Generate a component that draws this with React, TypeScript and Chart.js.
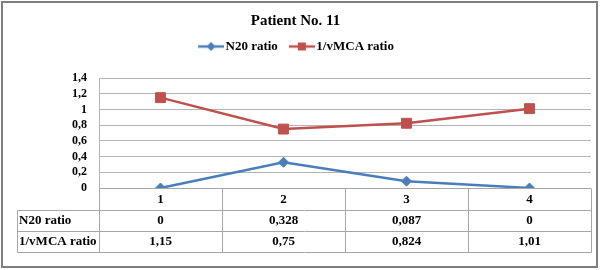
import React, { useEffect, useRef } from "react";
import { Chart, registerables } from "chart.js";

Chart.register(...registerables);

const titleText = "Patient No. 11";
const categories = ["1", "2", "3", "4"];
const seriesNames = ["N20 ratio", "1/vMCA ratio"];
const n20Ratio = [0, 0.328, 0.087, 0];
const vmcaRatio = [1.15, 0.75, 0.824, 1.01];
const yTickValues = [0, 0.2, 0.4, 0.6, 0.8, 1, 1.2, 1.4];

const BLUE = "#4A7EBB";
const RED = "#C0504D";
const GRID = "#B3B3B3";
const TABLE_LINE = "#A6A6A6";
const FONT = "'Liberation Serif', 'Times New Roman', serif";

const fmt = (v: number) => String(Number(Number(v).toFixed(3))).replace(".", ",");

function makeLegendSymbol(color: string, kind: "diamond" | "square") {
  const c = document.createElement("canvas");
  c.width = 32;
  c.height = 12;
  const ctx = c.getContext("2d")!;
  ctx.strokeStyle = color;
  ctx.lineWidth = 2.5;
  ctx.beginPath();
  ctx.moveTo(6, 6);
  ctx.lineTo(32, 6);
  ctx.stroke();
  ctx.fillStyle = color;
  const cx = 19;
  const cy = 6;
  ctx.beginPath();
  if (kind === "diamond") {
    ctx.moveTo(cx, cy - 4.5);
    ctx.lineTo(cx + 4.5, cy);
    ctx.lineTo(cx, cy + 4.5);
    ctx.lineTo(cx - 4.5, cy);
    ctx.closePath();
  } else {
    ctx.rect(cx - 4, cy - 4, 8, 8);
  }
  ctx.fill();
  return c;
}

const HEADER_H = 22;
const ROW_H = 21;
const TABLE_LEFT = 17;

const legendSpacer = {
  id: "legendSpacer",
  afterInit(chart: any) {
    const legend = chart.legend;
    if (!legend || legend._spacerPatched) return;
    const orig = legend.fit;
    legend.fit = function () {
      orig.call(this);
      this.height += 15;
    };
    legend._spacerPatched = true;
  },
};

const frame = {
  id: "frame",
  beforeDraw(chart: any) {
    const { ctx, width, height } = chart;
    ctx.save();
    ctx.fillStyle = "#fff";
    ctx.fillRect(0, 0, width, height);
    ctx.restore();
  },
  afterDraw(chart: any) {
    const { ctx } = chart;
    ctx.save();
    ctx.strokeStyle = "#7F7F7F";
    ctx.lineWidth = 2;
    ctx.strokeRect(2, 2, 595, 265);
    ctx.restore();
  },
};

const dataTable = {
  id: "dataTable",
  beforeDatasetsDraw(chart: any) {
    const { ctx, chartArea } = chart;
    const xs = chart.scales.x;
    const n = categories.length;
    const band = (xs.right - xs.left) / n;
    const top = Math.round(chartArea.bottom) + 0.5;
    const y1 = top + HEADER_H;
    const rows = chart.data.datasets.length;
    const bottom = y1 + rows * ROW_H;
    ctx.save();
    ctx.strokeStyle = TABLE_LINE;
    ctx.lineWidth = 1;
    ctx.beginPath();
    ctx.moveTo(xs.left, top);
    ctx.lineTo(xs.right, top);
    for (let r = 0; r <= rows; r++) {
      const y = y1 + r * ROW_H;
      ctx.moveTo(TABLE_LEFT + 0.5, y);
      ctx.lineTo(Math.round(xs.right) + 0.5, y);
    }
    for (let i = 0; i <= n; i++) {
      const x = Math.round(xs.left + i * band) + 0.5;
      ctx.moveTo(x, top);
      ctx.lineTo(x, bottom);
    }
    ctx.moveTo(TABLE_LEFT + 0.5, y1);
    ctx.lineTo(TABLE_LEFT + 0.5, bottom);
    ctx.stroke();

    ctx.fillStyle = "#000";
    ctx.font = `bold 13px ${FONT}`;
    ctx.textBaseline = "middle";
    chart.data.datasets.forEach((ds: any, r: number) => {
      const yc = y1 + r * ROW_H + ROW_H / 2;
      ctx.textAlign = "left";
      ctx.fillText(ds.label, TABLE_LEFT + 2, yc);
      ctx.textAlign = "center";
      ds.data.forEach((v: number, i: number) => {
        ctx.fillText(fmt(v), xs.getPixelForValue(i), yc);
      });
    });
    ctx.restore();
  },
};

export default function App() {
  const ref = useRef<HTMLCanvasElement>(null);

  useEffect(() => {
    const canvas = ref.current!;
    const symbols = [makeLegendSymbol(BLUE, "diamond"), makeLegendSymbol(RED, "square")];
    const chart = new Chart(canvas, {
      type: "line",
      data: {
        labels: categories,
        datasets: [
          {
            label: seriesNames[0],
            data: n20Ratio,
            borderColor: BLUE,
            backgroundColor: BLUE,
            borderWidth: 2.5,
            pointStyle: "rectRot",
            pointRadius: 5,
            pointBorderWidth: 1,
            tension: 0,
          },
          {
            label: seriesNames[1],
            data: vmcaRatio,
            borderColor: RED,
            backgroundColor: RED,
            borderWidth: 2.5,
            pointStyle: "rect",
            pointRadius: 7,
            pointBorderWidth: 1,
            tension: 0,
          },
        ],
      },
      options: {
        responsive: false,
        animation: false,
        devicePixelRatio: 1,
        layout: { padding: { top: 0, left: 0, right: 9, bottom: 18 } },
        font: { family: FONT },
        plugins: {
          title: {
            display: true,
            text: titleText,
            color: "#000",
            font: { family: FONT, size: 15, weight: "bold" },
            padding: { top: 12, bottom: 0 },
          },
          legend: {
            display: true,
            position: "top",
            labels: {
              usePointStyle: true,
              pointStyleWidth: 22,
              padding: 10,
              color: "#000",
              font: { family: FONT, size: 13, weight: "bold" },
              generateLabels: (c: any) => {
                const items = (Chart.defaults.plugins.legend.labels as any).generateLabels(c);
                return items.map((it: any, i: number) => ({ ...it, pointStyle: symbols[i], fontColor: "#000" }));
              },
            },
          },
          tooltip: { enabled: false },
        },
        scales: {
          x: {
            type: "category",
            offset: true,
            grid: { display: false, drawTicks: false },
            border: { display: false },
            afterFit: (s: any) => {
              s.height = HEADER_H + ROW_H * 2;
            },
            ticks: {
              padding: 4,
              color: "#000",
              maxRotation: 0,
              autoSkip: false,
              font: { family: FONT, size: 13, weight: "bold" },
            },
          },
          y: {
            min: 0,
            max: 1.4,
            afterBuildTicks: (s: any) => {
              s.ticks = yTickValues.map((value) => ({ value }));
            },
            afterFit: (s: any) => {
              s.width = 99;
            },
            grid: { color: GRID, drawTicks: false },
            border: { display: true, color: GRID },
            ticks: {
              padding: 12,
              color: "#000",
              autoSkip: false,
              font: { family: FONT, size: 12, weight: "bold" },
              callback: (v: any) => fmt(Number(v)),
            },
          },
        },
      } as any,
      plugins: [legendSpacer, frame, dataTable],
    });
    return () => chart.destroy();
  }, []);

  return (
    <div style={{ position: "absolute", left: 0, top: 0, width: 600, height: 270 }}>
      <canvas ref={ref} width={600} height={270} style={{ display: "block", width: 600, height: 270 }} />
    </div>
  );
}
